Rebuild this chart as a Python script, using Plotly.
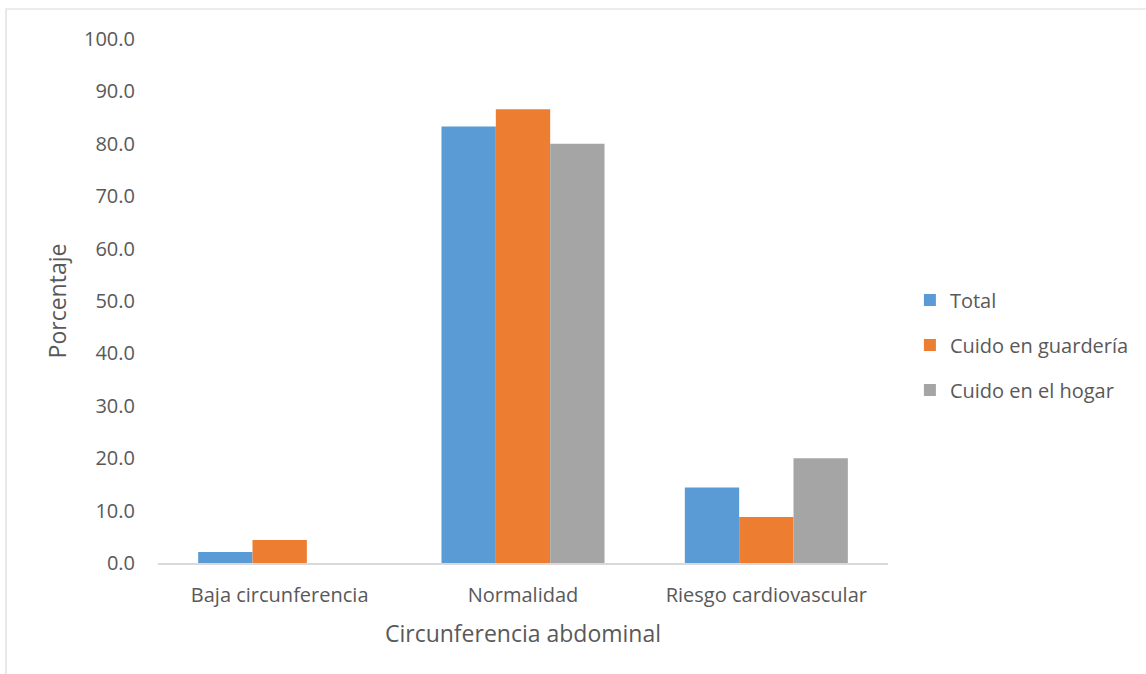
import plotly.graph_objects as go

categories = ["Baja circunferencia", "Normalidad", "Riesgo cardiovascular"]
total = [2.1, 83.3, 14.4]
guarderia = [4.4, 86.6, 8.8]
hogar = [0.0, 80.0, 20.0]
series_names = ["Total", "Cuido en guardería", "Cuido en el hogar"]
colors = ["#5B9BD5", "#ED7D31", "#A5A5A5"]
tick_vals = [0, 10, 20, 30, 40, 50, 60, 70, 80, 90, 100]
tick_text = [f"{v:.1f}" for v in tick_vals]

W, H = 1146, 674
ml, mr, mt, mb = 158, 258, 39, 111
pw, ph = W - ml - mr, H - mt - mb

fig = go.Figure()
for name, vals, c in zip(series_names, [total, guarderia, hogar], colors):
    fig.add_trace(go.Bar(x=categories, y=vals, name=name, marker_color=c,
                         marker_line_width=0, legendgroup=name))

font = dict(family="Open Sans, Liberation Sans, sans-serif", color="#595959")

fig.update_layout(
    width=W, height=H,
    margin=dict(l=ml, r=mr, t=mt, b=mb),
    paper_bgcolor="white", plot_bgcolor="white",
    barmode="group", bargap=0.33, bargroupgap=0,
    font=dict(size=20, **font),
    xaxis=dict(showgrid=False, showline=True, linecolor="#D9D9D9", linewidth=1.5,
               ticks="", tickfont=dict(size=20, **font), ticklabelstandoff=13,
               title=dict(text="Circunferencia abdominal", font=dict(size=23, **font), standoff=19)),
    yaxis=dict(range=[0, 100], tickvals=tick_vals, ticktext=tick_text, showgrid=False,
               zeroline=False, showline=False, ticks="", ticklabelstandoff=22,
               tickfont=dict(size=20, **font),
               title=dict(text="Porcentaje", font=dict(size=23, **font), standoff=10)),
    legend=dict(x=1.03, y=0.416, xanchor="left", yanchor="middle",
                font=dict(size=20, **font), tracegroupgap=16, itemwidth=30),
    shapes=[dict(type="rect", xref="paper", yref="paper",
                 x0=(6 - ml) / pw, x1=(W + 10 - ml) / pw,
                 y0=-(H + 10 - mt - ph) / ph, y1=(mt + ph - 9) / ph,
                 line=dict(color="#D9D9D9", width=1.2), layer="below")],
)

fig.write_html("out.html", config={"displayModeBar": False},
               post_script="document.body.style.margin='0';")
